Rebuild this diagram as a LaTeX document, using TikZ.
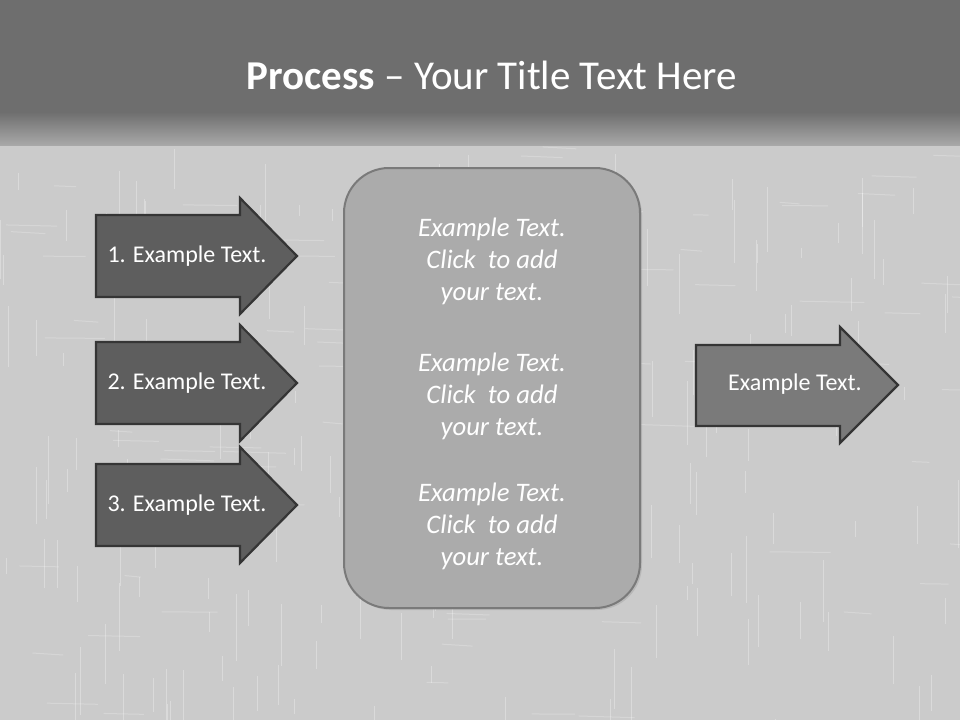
\documentclass[tikz,border=0pt]{standalone}
\usepackage{fontspec}
\setmainfont{Carlito}
\usetikzlibrary{shadows}
\definecolor{bgtop}{HTML}{6E6E6E}
\definecolor{bgmid}{HTML}{A8A8A8}
\definecolor{bgwall}{HTML}{CBCBCB}
\definecolor{arrowdark}{HTML}{5E5E5E}
\definecolor{arrowlight}{HTML}{7A7A7A}
\definecolor{arrowedge}{HTML}{353535}
\definecolor{boxfill}{HTML}{ABABAB}
\definecolor{boxedge}{HTML}{7A7A7A}
\tikzset{
  arrowshape/.style={draw=arrowedge, line width=2.2pt, line join=miter},
  arrowlabel/.style={text=white, font=\fontsize{24}{29}\selectfont, inner sep=0pt},
  boxtext/.style={text=white, font=\itshape\fontsize{26.7}{32}\selectfont, align=center, inner sep=0pt},
  stroke/.style={white, opacity=0.3, line width=1pt},
}
\begin{document}
\begin{tikzpicture}[x=1pt,y=-1pt]
\useasboundingbox (0,0) rectangle (960,720);
% background
\fill[bgwall] (0,0) rectangle (960,720);
\pgfmathsetseed{7}
\foreach \i in {1,...,180}{
  \pgfmathsetmacro{\xa}{960*rnd}
  \pgfmathsetmacro{\ya}{145+575*rnd}
  \pgfmathsetmacro{\la}{10+60*rnd}
  \draw[stroke] (\xa,\ya) -- ++(0,\la);
}
\foreach \i in {1,...,90}{
  \pgfmathsetmacro{\xa}{960*rnd}
  \pgfmathsetmacro{\ya}{145+575*rnd}
  \pgfmathsetmacro{\la}{15+50*rnd}
  \draw[stroke, opacity=0.22] (\xa,\ya) -- ++(\la,2*rnd);
}
\fill[bgtop] (0,0) rectangle (960,112);
\shade[top color=bgtop, bottom color=bgmid] (0,112) rectangle (960,145);
% title
\node[text=white, font=\fontsize{41}{49}\selectfont, inner sep=0pt] (title) at (492,75) {\textbf{Process} – Your Title Text Here};
% centre box
\node[draw=boxedge, fill=boxfill, line width=2pt, rounded corners=45pt, minimum width=296pt, minimum height=440pt, drop shadow={opacity=0.25, shadow xshift=2pt, shadow yshift=-2pt}] (box) at (492,388) {};
\node[boxtext] (t1) at (492,261) {Example Text.\\Click\ \ to add\\your text.};
\node[boxtext] (t2) at (492,396) {Example Text.\\Click\ \ to add\\your text.};
\node[boxtext] (t3) at (492,526) {Example Text.\\Click\ \ to add\\your text.};
% left arrows
\foreach \yc/\n in {256/1, 383/2, 505/3}{
  \draw[arrowshape, fill=arrowdark] (96,\yc-41) -- (240,\yc-41) -- (240,\yc-58) -- (297,\yc) -- (240,\yc+58) -- (240,\yc+41) -- (96,\yc+41) -- cycle;
  \node[arrowlabel] (a\n) at (187,\yc) {\n. Example Text.};
}
% right arrow
\draw[arrowshape, fill=arrowlight] (696,345) -- (840,345) -- (840,327) -- (898,385) -- (840,443) -- (840,426) -- (696,426) -- cycle;
\node[arrowlabel] (out) at (795,384) {Example Text.};
\end{tikzpicture}
\end{document}
